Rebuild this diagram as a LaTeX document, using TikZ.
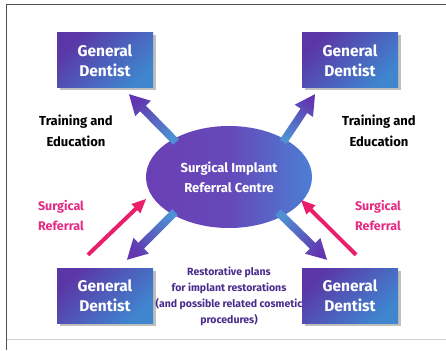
\documentclass[tikz,border=0pt]{standalone}
\usepackage{fontspec}
\setmainfont{Fira Sans}
\usetikzlibrary{calc,shadows,shapes.geometric}
\definecolor{boxpurple}{HTML}{5B36A6}
\definecolor{boxblue}{HTML}{3F86CF}
\definecolor{ellpurple}{HTML}{6A3FB5}
\definecolor{ellblue}{HTML}{4C7FD4}
\definecolor{arrblue}{HTML}{4E90D2}
\definecolor{arrpurple}{HTML}{6236B0}
\definecolor{pinkarrow}{HTML}{EA1F6C}
\definecolor{pinktext}{HTML}{E42A82}
\definecolor{purpletext}{HTML}{4A2B8C}
\definecolor{frameline}{HTML}{505050}
\definecolor{framelight}{HTML}{D0D0D0}
\newcommand\fatarrow[7]{%
  \pgfmathanglebetweenpoints{\pgfpointanchor{#1}{center}}{\pgfpointanchor{#2}{center}}%
  \pgfmathsetmacro\arrshang{\pgfmathresult-90}%
  \shade[bottom color=#3, top color=#4, shading angle=\arrshang]
    ($(#1)!#5!90:(#2)$) -- ($(#2)!#7!(#1)!#5!90:(#2)$) -- ($(#2)!#7!(#1)!#6!90:(#2)$)
    -- (#2) -- ($(#2)!#7!(#1)!#6!-90:(#2)$) -- ($(#2)!#7!(#1)!#5!-90:(#2)$)
    -- ($(#1)!#5!-90:(#2)$) -- cycle;}
\begin{document}
\begin{tikzpicture}[x=1pt,y=-1pt,
  dentist/.style={rectangle, minimum width=96pt, minimum height=55pt, inner sep=0pt,
    top color=boxpurple, bottom color=boxblue, shading angle=45,
    drop shadow={shadow xshift=2.5pt, shadow yshift=-2.5pt, fill=black, opacity=0.25},
    text=white, align=center, font=\fontsize{15.5}{20}\selectfont\bfseries},
  centre/.style={ellipse, minimum width=166pt, minimum height=102pt, inner sep=0pt,
    left color=ellpurple, right color=ellblue, middle color=ellpurple!85!ellblue,
    text=white, align=center, font=\fontsize{13}{20}\selectfont\bfseries},
  training/.style={align=center, text=black, font=\fontsize{13}{21}\selectfont\bfseries},
  referral/.style={align=center, text=pinktext, font=\fontsize{12.5}{20}\selectfont\bfseries},
  restore/.style={align=center, text=purpletext, font=\fontsize{10.5}{16}\selectfont\bfseries}]
\useasboundingbox (0,0) rectangle (446,350);
\fill[white] (0,0) rectangle (446,350);
% frame
\draw[framelight, line width=1pt] (6,339) -- (446,339);
\draw[frameline, line width=1.5pt] (6.5,350) -- (6.5,4.5) -- (446,4.5);
% texts
\node[training] (trL) at (76,131) {Training and\\Education};
\node[training] (trR) at (379,131) {Training and\\Education};
\node[referral] (refL) at (61,216) {Surgical\\Referral};
\node[referral] (refR) at (378,216) {Surgical\\Referral};
\node[restore] (rest) at (229,296) {Restorative plans\\for implant restorations\\(and possible related cosmetic\\procedures)};
% nodes
\node[dentist] (tl) at (105,60.5) {General\\Dentist};
\node[dentist] (tr) at (350,60.5) {General\\Dentist};
\node[dentist] (bl) at (105,295.5) {General\\Dentist};
\node[dentist] (br) at (350,295.5) {General\\Dentist};
\node[centre] (src) at (229,177) {Surgical Implant\\Referral Centre};
% arrow end points
\coordinate (tlTail) at ($(src.center)+(-53,-35)$);
\coordinate (tlTip) at ($(tl.south)+(24,6)$);
\coordinate (trTail) at ($(src.center)+(54,-35)$);
\coordinate (trTip) at ($(tr.south)+(-35,6)$);
\coordinate (blTail) at ($(src.center)+(-54,35)$);
\coordinate (blTip) at ($(bl.north)+(22,-8)$);
\coordinate (brTail) at ($(src.center)+(49,35)$);
\coordinate (brTip) at ($(br.north)+(-23,-8)$);
\coordinate (plTail) at ($(bl.north)+(-17,-13)$);
\coordinate (plTip) at ($(src.center)+(-83,22)$);
\coordinate (prTail) at ($(br.north)+(6,-13)$);
\coordinate (prTip) at ($(src.center)+(72,23)$);
% arrows
\fatarrow{tlTail}{tlTip}{arrblue}{arrpurple}{4pt}{11pt}{20pt}
\fatarrow{trTail}{trTip}{arrblue}{arrpurple}{4pt}{11pt}{20pt}
\fatarrow{blTail}{blTip}{arrblue}{arrpurple}{4pt}{11pt}{20pt}
\fatarrow{brTail}{brTip}{arrblue}{arrpurple}{4pt}{11pt}{20pt}
\fatarrow{plTail}{plTip}{pinkarrow}{pinkarrow}{2pt}{6.5pt}{14pt}
\fatarrow{prTail}{prTip}{pinkarrow}{pinkarrow}{2pt}{6.5pt}{14pt}
\end{tikzpicture}
\end{document}
